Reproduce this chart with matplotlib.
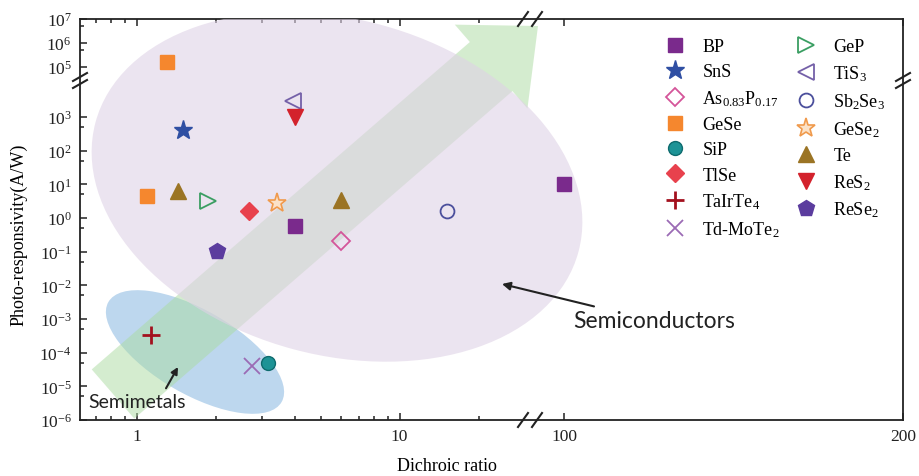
import numpy as np
import matplotlib
matplotlib.use("Agg")
import matplotlib.pyplot as plt
from matplotlib.patches import Ellipse, FancyArrow
from matplotlib.transforms import Affine2D
from matplotlib.ticker import FixedLocator, FixedFormatter, NullFormatter

plt.rcParams["font.family"] = ["Liberation Serif", "DejaVu Serif"]
plt.rcParams["mathtext.fontset"] = "custom"
plt.rcParams["mathtext.rm"] = "Liberation Serif"
plt.rcParams["mathtext.it"] = "Liberation Serif:italic"

# data
names = [r"BP", r"SnS", r"As$_{0.83}$P$_{0.17}$", r"GeSe", r"SiP", r"TlSe",
         r"TaIrTe$_4$", r"Td-MoTe$_2$", r"GeP", r"TiS$_3$", r"Sb$_2$Se$_3$",
         r"GeSe$_2$", r"Te", r"ReS$_2$", r"ReSe$_2$"]
dichroic = [[4.0, 100], [1.5], [6.0], [1.3, 1.09], [3.15], [2.67], [1.13],
            [2.74], [1.86], [3.92], [15.1], [3.41], [1.43, 6.0], [4.0], [2.02]]
responsivity = [[0.58, 10.5], [410], [0.21], [1.6e5, 4.5], [4.9e-5], [1.6],
                [3.3e-4], [4.0e-5], [3.2], [3000], [1.6], [2.8], [6.3, 3.4],
                [1000], [0.105]]

x_major = [1, 10, 100, 200]
x_minor = [0.7, 0.8, 0.9, 2, 3, 4, 5, 6, 7, 8, 9, 20]
y_major = [1e-6, 1e-5, 1e-4, 1e-3, 1e-2, 1e-1, 1e0, 1e1, 1e2, 1e3, 1e5, 1e6, 1e7]
y_major_labels = [r"$\mathregular{10^{%d}}$" % e for e in [-6, -5, -4, -3, -2, -1, 0, 1, 2, 3, 5, 6, 7]]
y_minor = [5e-6, 5e-5, 5e-4, 5e-3, 5e-2, 5e-1, 5, 50, 500, 5e5, 5e6]

# marker styles: (marker, size, face, edge, edge width)
styles = [
    ("s", 9.5, "#7a2a8c", "#7a2a8c", 1.0),
    ("*", 14, "#2f4fa3", "#2f4fa3", 1.0),
    ("D", 9, "none", "#d4559a", 1.3),
    ("s", 9.5, "#f5872e", "#f5872e", 1.0),
    ("o", 10, "#1d9396", "#0e6b6e", 1.0),
    ("D", 9.5, "#e8414d", "#e8414d", 1.0),
    ("+", 13, "#a3111e", "#a3111e", 2.0),
    ("x", 11, "#9b6bb5", "#9b6bb5", 1.3),
    (">", 11, "none", "#3a9e62", 1.3),
    ("<", 11, "none", "#7460a8", 1.3),
    ("o", 10, "none", "#4b4f9c", 1.3),
    ("*", 14, "#fbe2c8", "#f09a4c", 1.2),
    ("^", 11, "#9b7424", "#9b7424", 1.0),
    ("v", 11, "#d3222c", "#d3222c", 1.0),
    ("p", 12, "#5b3c9e", "#5b3c9e", 1.0),
]

# broken axes as piecewise scales (units roughly pixels)
XB1, XB2 = 28.0, 94.7
U1 = 57 + 263 * np.log10(XB1)
U2 = 485 + (XB2 - 100) * 3.39


def x_fwd(x):
    x = np.asarray(x, dtype=float)
    with np.errstate(all="ignore"):
        lo = 57 + 263 * np.log10(np.clip(x, 1e-12, None))
        mid = U1 + (x - XB1) * (U2 - U1) / (XB2 - XB1)
        hi = 485 + (x - 100) * 3.39
    return np.where(x <= XB1, lo, np.where(x < XB2, mid, hi))


def x_inv(u):
    u = np.asarray(u, dtype=float)
    with np.errstate(all="ignore"):
        lo = 10 ** ((np.clip(u, -2000, U1) - 57) / 263)
        mid = XB1 + (u - U1) * (XB2 - XB1) / (U2 - U1)
        hi = 100 + (u - 485) / 3.39
    return np.where(u <= U1, lo, np.where(u < U2, mid, hi))


YL2 = 4.54
V1 = 33.67 * 10
V2 = 353 + 24 * (YL2 - 5)


def y_fwd(y):
    y = np.asarray(y, dtype=float)
    with np.errstate(all="ignore"):
        L = np.log10(np.clip(y, 1e-30, None))
    lo = 33.67 * (L + 6)
    mid = V1 + (L - 4) * (V2 - V1) / (YL2 - 4)
    hi = 353 + 24 * (L - 5)
    return np.where(L <= 4, lo, np.where(L < YL2, mid, hi))


def y_inv(v):
    v = np.asarray(v, dtype=float)
    lo = v / 33.67 - 6
    mid = 4 + (v - V1) * (YL2 - 4) / (V2 - V1)
    hi = 5 + (v - 353) / 24
    L = np.where(v <= V1, lo, np.where(v < V2, mid, hi))
    with np.errstate(all="ignore"):
        return 10 ** np.clip(L, -30, 30)


AX_W, AX_H = 823, 401
fig = plt.figure(figsize=(9.19, 4.77), dpi=100)
ax = fig.add_axes([80 / 919, 56 / 477, AX_W / 919, AX_H / 477])
px = Affine2D().scale(1 / AX_W, 1 / AX_H) + ax.transAxes

ax.set_xscale("function", functions=(x_fwd, x_inv))
ax.set_yscale("function", functions=(y_fwd, y_inv))
ax.set_xlim(0.607, 200)
ax.set_ylim(1e-6, 1e7)

# background regions
ax.add_patch(Ellipse((115, 68), 200, 84, angle=-30, transform=px,
                     facecolor="#bdd7ee", edgecolor="none", zorder=1))
ax.add_patch(FancyArrow(33, 26, 425, 368, width=65, head_width=111, head_length=62,
                        length_includes_head=True, transform=px,
                        facecolor=(0.67, 0.86, 0.63, 0.5), edgecolor="none", zorder=2))
ax.add_patch(Ellipse((257, 233), 500, 336, angle=-15, transform=px,
                     facecolor=(0.875, 0.823, 0.90, 0.6), edgecolor="none", zorder=3))

for name, xs, ys, (m, ms, fc, ec, mew) in zip(names, dichroic, responsivity, styles):
    ax.plot(xs, ys, linestyle="none", marker=m, markersize=ms, markerfacecolor=fc,
            markeredgecolor=ec, markeredgewidth=mew, label=name, zorder=5)

ax.xaxis.set_major_locator(FixedLocator(x_major))
ax.xaxis.set_major_formatter(FixedFormatter([str(v) for v in x_major]))
ax.xaxis.set_minor_locator(FixedLocator(x_minor))
ax.xaxis.set_minor_formatter(NullFormatter())
ax.yaxis.set_major_locator(FixedLocator(y_major))
ax.yaxis.set_major_formatter(FixedFormatter(y_major_labels))
ax.yaxis.set_minor_locator(FixedLocator(y_minor))
ax.yaxis.set_minor_formatter(NullFormatter())
ax.tick_params(which="both", direction="in", top=True, right=False, width=1.1,
               labelsize=12.5, colors="#222222")
ax.tick_params(which="major", length=5, pad=6)
ax.tick_params(which="minor", length=3)
for s in ax.spines.values():
    s.set_linewidth(1.3)
    s.set_color("#222222")

ax.set_xlabel("Dichroic ratio", fontsize=13)
ax.xaxis.set_label_coords(0.446, -0.092)
ax.set_ylabel("Photo-responsivity(A/W)", fontsize=13)
ax.yaxis.set_label_coords(-0.064, 0.464)

# break marks
for cx in (443, 457):
    for cy in (0, AX_H):
        ax.plot([cx - 5, cx + 5], [cy - 7, cy + 7], color="#222222", lw=1.5,
                transform=px, clip_on=False, zorder=7)
for cx in (0, AX_W):
    for cy in (336, 343):
        ax.plot([cx - 7, cx + 7], [cy - 4, cy + 4], color="#222222", lw=1.5,
                transform=px, clip_on=False, zorder=7)

ax.annotate("Semiconductors", xy=(422, 136), xycoords=px, xytext=(493, 99),
            textcoords=px, ha="left", va="center", fontsize=16.5, family="Lato",
            color="#222222", zorder=6,
            arrowprops=dict(arrowstyle="-|>", color="#222222", lw=1.5,
                            shrinkA=4, shrinkB=0, mutation_scale=12))
ax.annotate("Semimetals", xy=(98, 53), xycoords=px, xytext=(8, 18),
            textcoords=px, ha="left", va="center", fontsize=14, family="Lato",
            color="#222222", zorder=6,
            arrowprops=dict(arrowstyle="-|>", color="#222222", lw=1.5,
                            relpos=(0.77, 1.0), shrinkA=2, shrinkB=0, mutation_scale=10))

ax.legend(ncol=2, frameon=False, loc="upper left", bbox_to_anchor=(579, 389),
          bbox_transform=px, borderaxespad=0, fontsize=13, handlelength=1.0,
          handletextpad=1.0, columnspacing=0.95, labelspacing=0.45, numpoints=1)

fig.savefig("out.png", dpi=100, facecolor="white")
